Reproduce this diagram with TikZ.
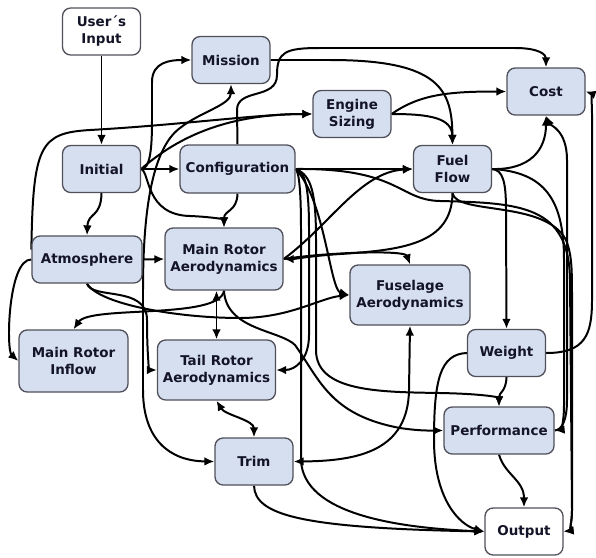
\documentclass[tikz,border=0pt]{standalone}
\usepackage{fontspec}
\setmainfont{DejaVu Sans}
\usetikzlibrary{arrows.meta,backgrounds}

\definecolor{boxfill}{RGB}{214,223,239}
\definecolor{boxline}{RGB}{80,80,90}
\definecolor{boxtext}{RGB}{20,20,40}

\begin{document}
\begin{tikzpicture}[
		x=0.03cm, y=-0.03cm,
		block/.style={rectangle, draw=boxline, fill=boxfill, line width=1.1pt, rounded corners=7pt, minimum width=2.34cm, minimum height=1.41cm, inner sep=0pt, align=center, text=boxtext, font=\fontsize{11.5}{14.5}\selectfont\bfseries},
		ioblock/.style={block, fill=white},
		arr/.style={-{Latex[length=3mm,width=2.6mm]}, line width=1.7pt},
		darr/.style={{Latex[length=3mm,width=2.6mm]}-{Latex[length=3mm,width=2.6mm]}, line width=1.7pt},
	]
	\useasboundingbox (0,0) rectangle (596,557);

	\node[ioblock] (inp) at (101.5,31.5) {User´s\\Input};
	\node[block] (mis)  at (231,60) {Mission};
	\node[block] (cost) at (546,91.5) {Cost};
	\node[block] (eng)  at (352,114) {Engine\\Sizing};
	\node[block] (ini)  at (101.5,169) {Initial};
	\node[block, minimum width=3.45cm, minimum height=1.44cm] (conf) at (237.5,169) {Configuration};
	\node[block] (fuel) at (452.5,169) {Fuel\\Flow};
	\node[block, minimum width=3.3cm] (atm) at (87,259.5) {Atmosphere};
	\node[block, minimum width=3.54cm, minimum height=1.86cm] (mra) at (224,259) {Main Rotor\\Aerodynamics};
	\node[block, minimum width=3.6cm, minimum height=1.8cm] (fus) at (410,295) {Fuselage\\Aerodynamics};
	\node[block, minimum width=3.27cm, minimum height=1.86cm] (inf) at (73.5,361) {Main Rotor\\Inflow};
	\node[block, minimum width=3.54cm, minimum height=1.8cm] (tra) at (216.5,370) {Tail Rotor\\Aerodynamics};
	\node[block] (wgt)  at (506.5,353) {Weight};
	\node[block, minimum width=3.3cm] (perf) at (499,430.5) {Performance};
	\node[block] (trim) at (254,461.5) {Trim};
	\node[ioblock] (out) at (524,531.5) {Output};

	\begin{scope}[on background layer]
		% left column
		\draw[arr] (inp) -- (ini);
		\draw[arr] (ini) -- (conf);
		\draw[arr] (ini.south) .. controls (101,218) and (88,212) .. (atm.north);
		\draw[arr] (ini.east) .. controls (150,169) and (152,150) .. (152,120) -- (152,82) .. controls (152,62) and (170,60) .. (mis.west);
		\draw[arr] (ini.east) .. controls (180,135) and (230,114) .. (eng.west);
		\draw[arr] (atm.170) .. controls (33,145) and (40,133) .. (90,130) .. controls (180,125) and (260,114) .. (eng.west);
		\draw[arr] (ini.east) .. controls (150,172) and (145,215) .. (190,216) .. controls (215,217) and (224,220) .. (mra.north);
		\draw[arr] (conf.south) .. controls (237,212) and (224,210) .. (mra.north);
		\draw[arr] (atm.east) -- (mra.west);
		\draw[darr] (mis.south) .. controls (231,105) and (200,112) .. (180,128) .. controls (150,150) and (143,220) .. (143,290) -- (143,390) .. controls (143,440) and (170,461) .. (trim.west);
		\draw[arr] (atm.west) .. controls (8,259) and (6,350) .. (inf.west);
		\draw[arr] (atm.south) .. controls (92,300) and (147,285) .. (147,320) .. controls (147,360) and (150,370) .. (tra.west);
		\draw[arr] (atm.south) .. controls (100,305) and (180,318) .. (240,318) .. controls (290,318) and (320,298) .. (fus.west);
		\draw[arr] (mra.south) .. controls (220,320) and (90,305) .. (inf.north);
		\draw[darr] (tra.north |- mra.south) -- (tra.north);
		\draw[darr] (tra.south) .. controls (225,415) and (254,420) .. (trim.north);

		% top row
		\draw[arr] (conf.north) -- (237,110) .. controls (237,88) and (277,100) .. (277,75) .. controls (277,52) and (285,48) .. (320,48) -- (515,48) .. controls (540,48) and (546,55) .. (cost.north);
		\draw[arr] (mis.east) -- (330,60) .. controls (440,60) and (452,90) .. (fuel.north);
		\draw[arr] (eng.east) .. controls (420,94) and (450,91.5) .. (cost.west);
		\draw[arr] (eng.east) .. controls (430,114) and (452,118) .. (fuel.north);
		\draw[arr] (conf.east) -- (fuel.west);

		% middle
		\draw[arr] (mra.east) .. controls (330,225) and (360,172) .. (fuel.west);
		\draw[arr] (fuel.south) .. controls (452,245) and (400,250) .. (340,254) .. controls (310,256) and (295,259) .. (mra.east);
		\draw[arr] (mra.east) .. controls (330,252) and (405,250) .. (fus.north);
		\draw[arr] (conf.east) .. controls (325,200) and (330,290) .. (fus.west);
		\draw[arr] (conf.east) .. controls (306,172) and (309,190) .. (309,230) -- (309,335) .. controls (309,360) and (295,370) .. (tra.east);
		\draw[arr] (conf.east) .. controls (312,175) and (316,195) .. (316,240) -- (316,350) .. controls (316,392) and (380,392) .. (440,393) .. controls (490,394) and (499,398) .. (perf.north);
		\draw[arr] (conf.east) .. controls (299,172) and (301,190) .. (301,230) -- (301,460) .. controls (303,515) and (400,528) .. (out.west);
		\draw[arr] (mra.south) .. controls (226,330) and (280,330) .. (295,345) .. controls (320,380) and (330,415) .. (400,428) .. controls (420,431) and (430,430.5) .. (perf.west);
		\draw[darr] (fus.south) -- (409,390) .. controls (408,450) and (360,461) .. (trim.east);
		\draw[arr] (trim.south) .. controls (255,515) and (300,528) .. (out.west);

		% right column
		\draw[arr] (fuel.east) .. controls (530,170) and (546,150) .. (cost.south);
		\draw[arr] (fuel.east) .. controls (503,170) and (506,182) .. (506,210) -- (wgt.north);
		\draw[arr] (fuel.east) .. controls (545,172) and (564,200) .. (564,260) -- (564,405) .. controls (564,425) and (560,430) .. (perf.east);
		\draw[arr] (fuel.south) .. controls (456,215) and (545,200) .. (566,240) .. controls (572,255) and (572,270) .. (572,300) -- (572,510) .. controls (572,525) and (568,531) .. (out.east);
		\draw[arr] (conf.east) .. controls (400,168) and (398,200) .. (440,201) .. controls (520,203) and (569,205) .. (570,280) -- (572,510) .. controls (572,525) and (568,531) .. (out.east);
		\draw[arr] (perf.east) .. controls (562,430) and (567,420) .. (567,400) -- (567,160) .. controls (567,130) and (550,125) .. (cost.south);
		\draw[arr] (wgt.east) .. controls (585,353) and (592,335) .. (592,300) -- (592,115) .. controls (592,98) and (590,93) .. (cost.east);
		\draw[arr] (wgt.south) .. controls (506,392) and (499,392) .. (perf.north);
		\draw[arr] (wgt.west) .. controls (440,354) and (434,380) .. (434,440) .. controls (434,500) and (460,525) .. (out.west);
		\draw[arr] (perf.south) .. controls (505,475) and (524,480) .. (out.north);
	\end{scope}

\end{tikzpicture}
\end{document}
